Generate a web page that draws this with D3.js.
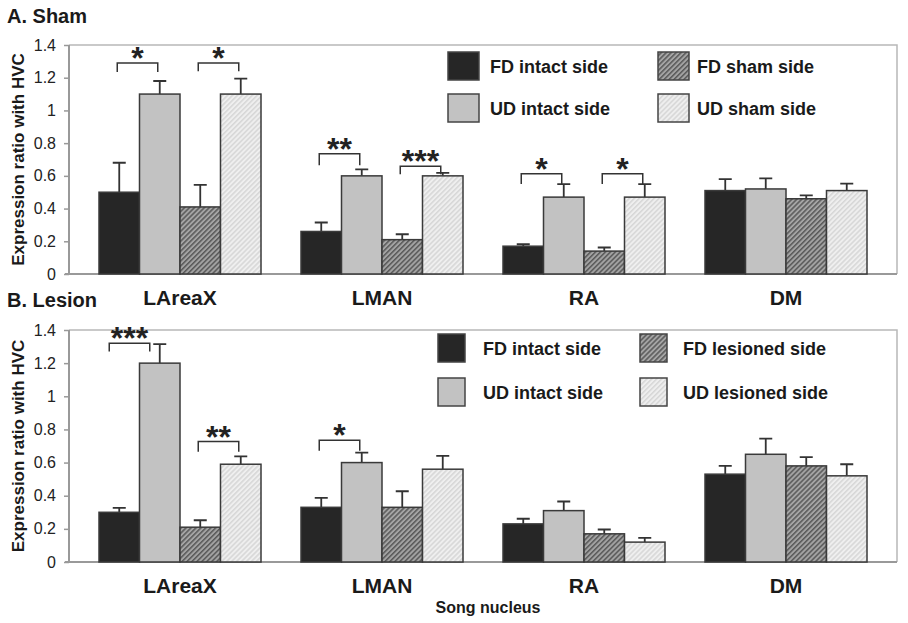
<!DOCTYPE html>
<html>
<head>
<meta charset="utf-8">
<script src="https://cdn.jsdelivr.net/npm/d3@7"></script>
<style>
  body { margin: 0; background: #fff; }
  svg { display: block; font-family: "Liberation Sans", Arial, sans-serif; }
</style>
</head>
<body>
<svg id="chart" width="908" height="623"></svg>
<script>
const categories = ["LAreaX", "LMAN", "RA", "DM"]
const yTicks = [0, 0.2, 0.4, 0.6, 0.8, 1, 1.2, 1.4]

// A. Sham
const shamKeys = ["FD intact side", "UD intact side", "FD sham side", "UD sham side"]
const shamFDIntact = [0.50, 0.26, 0.17, 0.51]
const shamFDIntactErr = [0.18, 0.055, 0.012, 0.07]
const shamUDIntact = [1.10, 0.60, 0.47, 0.52]
const shamUDIntactErr = [0.08, 0.04, 0.08, 0.065]
const shamFDSham = [0.41, 0.21, 0.14, 0.46]
const shamFDShamErr = [0.135, 0.033, 0.022, 0.021]
const shamUDSham = [1.10, 0.60, 0.47, 0.51]
const shamUDShamErr = [0.095, 0.018, 0.08, 0.043]
const shamSig = [
  { cat: "LAreaX", from: 0, to: 1, label: "*", top: 1.29, arm: 1.235 },
  { cat: "LAreaX", from: 2, to: 3, label: "*", top: 1.29, arm: 1.24 },
  { cat: "LMAN", from: 0, to: 1, label: "**", top: 0.735, arm: 0.665 },
  { cat: "LMAN", from: 2, to: 3, label: "***", top: 0.658, arm: 0.61 },
  { cat: "RA", from: 0, to: 1, label: "*", top: 0.613, arm: 0.55 },
  { cat: "RA", from: 2, to: 3, label: "*", top: 0.613, arm: 0.55 }
]

// B. Lesion
const lesionKeys = ["FD intact side", "UD intact side", "FD lesioned side", "UD lesioned side"]
const lesFDIntact = [0.30, 0.33, 0.23, 0.53]
const lesFDIntactErr = [0.027, 0.057, 0.031, 0.05]
const lesUDIntact = [1.20, 0.60, 0.31, 0.65]
const lesUDIntactErr = [0.115, 0.06, 0.055, 0.095]
const lesFDLesioned = [0.21, 0.33, 0.17, 0.58]
const lesFDLesionedErr = [0.042, 0.097, 0.026, 0.053]
const lesUDLesioned = [0.59, 0.56, 0.12, 0.52]
const lesUDLesionedErr = [0.047, 0.08, 0.025, 0.07]
const lesionSig = [
  { cat: "LAreaX", from: 0, to: 1, label: "***", top: 1.32, arm: 1.27, shift: -10 },
  { cat: "LAreaX", from: 2, to: 3, label: "**", top: 0.727, arm: 0.666 },
  { cat: "LMAN", from: 0, to: 1, label: "*", top: 0.735, arm: 0.672 }
]

const svg = d3.select("#chart")
const defs = svg.append("defs")

function hatch(id, bg, line) {
  const p = defs.append("pattern").attr("id", id)
    .attr("patternUnits", "userSpaceOnUse").attr("width", 3.5).attr("height", 3.5)
    .attr("patternTransform", "rotate(45)")
  p.append("rect").attr("width", 3.5).attr("height", 3.5).attr("fill", bg)
  p.append("line").attr("x1", 0.8).attr("y1", 0).attr("x2", 0.8).attr("y2", 3.5)
    .attr("stroke", line).attr("stroke-width", 1.2)
}
hatch("hatchDark", "#a4a4a4", "#444")
hatch("hatchLight", "#efefef", "#d0d0d0")

const fills = ["#262626", "#c2c2c2", "url(#hatchDark)", "url(#hatchLight)"]

const left = 69, right = 897
const x = d3.scaleBand().domain(categories).range([79, 887])
const inner = d3.scaleBand().domain([0, 1, 2, 3]).range([20, 182])

function drawPanel(cfg) {
  const y = d3.scaleLinear().domain([0, 1.4]).range([cfg.bottom, cfg.top])
  const g = svg.append("g")

  // frame (top and right)
  g.append("path")
    .attr("d", `M${left},${cfg.top}H${right}V${cfg.bottom}`)
    .attr("fill", "none").attr("stroke", "#b8b8b8").attr("stroke-width", 1.5)

  // y axis
  const yAxis = g.append("g").attr("transform", `translate(${left},0)`)
    .call(d3.axisLeft(y).tickValues(yTicks).tickFormat(d3.format("")).tickSize(5).tickPadding(8))
  yAxis.select(".domain").attr("stroke", "#999").attr("stroke-width", 2)
    .attr("d", `M${0},${cfg.top}V${cfg.bottom}`)
  yAxis.selectAll(".tick line").attr("stroke", "#999").attr("stroke-width", 1.5)
  yAxis.selectAll(".tick text").attr("font-size", 16).attr("fill", "#222")
    .attr("font-family", "Liberation Sans, Arial, sans-serif")

  // x baseline
  g.append("line").attr("x1", left - 4).attr("x2", right)
    .attr("y1", cfg.bottom).attr("y2", cfg.bottom)
    .attr("stroke", "#999").attr("stroke-width", 2)

  const rows = []
  cfg.series.forEach((s, i) => {
    s.values.forEach((v, j) => rows.push({ cat: categories[j], i, v, e: s.errors[j] }))
  })

  // error bars (upper only)
  const bx = d => x(d.cat) + inner(d.i) + inner.bandwidth() / 2
  g.selectAll(".err").data(rows).join("path").attr("class", "err")
    .attr("d", d => `M${bx(d)},${y(d.v)}V${y(d.v + d.e)}M${bx(d) - 6.5},${y(d.v + d.e)}H${bx(d) + 6.5}`)
    .attr("stroke", "#333").attr("stroke-width", 1.8).attr("fill", "none")

  // bars
  g.selectAll(".bar").data(rows).join("rect").attr("class", "bar")
    .attr("x", d => x(d.cat) + inner(d.i))
    .attr("y", d => y(d.v))
    .attr("width", inner.bandwidth())
    .attr("height", d => cfg.bottom - y(d.v))
    .attr("fill", d => fills[d.i])
    .attr("stroke", "#3a3a3a").attr("stroke-width", 1.5)

  // significance brackets
  cfg.sig.forEach(s => {
    const sh = s.shift || -2
    const x1 = x(s.cat) + inner(s.from) + inner.bandwidth() / 2 + sh
    const x2 = x(s.cat) + inner(s.to) + inner.bandwidth() / 2 + sh
    g.append("path")
      .attr("d", `M${x1},${y(s.arm)}V${y(s.top)}H${x2}V${y(s.arm)}`)
      .attr("fill", "none").attr("stroke", "#333").attr("stroke-width", 1.5)
    g.append("text").attr("x", (x1 + x2) / 2).attr("y", y(s.top) + 6)
      .attr("text-anchor", "middle").attr("font-size", 32).attr("font-weight", "bold")
      .attr("fill", "#222").text(s.label)
  })

  // category labels
  g.selectAll(".cat").data(categories).join("text").attr("class", "cat")
    .attr("x", d => x(d) + x.bandwidth() / 2)
    .attr("y", cfg.bottom + 31)
    .attr("text-anchor", "middle").attr("font-size", 21).attr("font-weight", "bold")
    .attr("fill", "#1a1a1a").text(d => d)

  // y label
  g.append("text")
    .attr("transform", `translate(24,${(cfg.top + cfg.bottom) / 2}) rotate(-90)`)
    .attr("text-anchor", "middle").attr("font-size", 17).attr("font-weight", "bold")
    .attr("fill", "#1a1a1a").text("Expression ratio with HVC")

  // panel title
  g.append("text").attr("x", 7).attr("y", cfg.titleY)
    .attr("font-size", 20).attr("font-weight", "bold").attr("fill", "#1a1a1a").text(cfg.title)

  // legend
  cfg.keys.forEach((k, i) => {
    const col = i >> 1, row = i % 2
    const lx = cfg.legend.x[col], ly = cfg.legend.y[row]
    g.append("rect").attr("x", lx).attr("y", ly)
      .attr("width", cfg.legend.w).attr("height", 28)
      .attr("fill", fills[col * 2 + row])
      .attr("stroke", "#444").attr("stroke-width", 1.5)
    g.append("text").attr("x", cfg.legend.tx[col]).attr("y", ly + 21)
      .attr("font-size", 18).attr("font-weight", "bold").attr("fill", "#1a1a1a").text(k)
  })
}

function pack(vals, errs) {
  return vals.map((v, i) => ({ values: v, errors: errs[i] }))
}

drawPanel({
  top: 45, bottom: 274, title: "A. Sham", titleY: 23,
  keys: shamKeys, sig: shamSig,
  series: pack([shamFDIntact, shamUDIntact, shamFDSham, shamUDSham],
    [shamFDIntactErr, shamUDIntactErr, shamFDShamErr, shamUDShamErr]),
  legend: { x: [448, 658], y: [52, 94], w: 31, tx: [490, 697] }
})

drawPanel({
  top: 330, bottom: 562, title: "B. Lesion", titleY: 307,
  keys: lesionKeys, sig: lesionSig,
  series: pack([lesFDIntact, lesUDIntact, lesFDLesioned, lesUDLesioned],
    [lesFDIntactErr, lesUDIntactErr, lesFDLesionedErr, lesUDLesionedErr]),
  legend: { x: [438, 640], y: [334, 378], w: 27, tx: [483, 683] }
})

svg.append("text").attr("x", 488).attr("y", 613)
  .attr("text-anchor", "middle").attr("font-size", 16).attr("font-weight", "bold")
  .attr("fill", "#1a1a1a").text("Song nucleus")
</script>
</body>
</html>
